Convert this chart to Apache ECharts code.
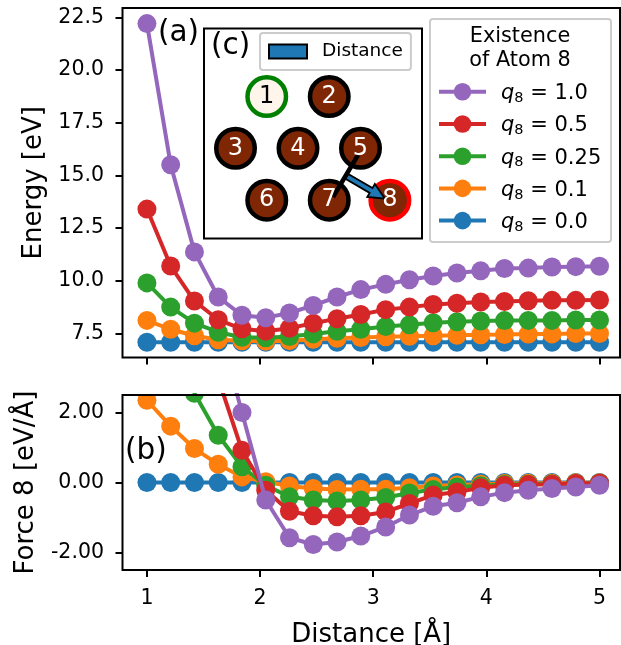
<!DOCTYPE html>
<html><head><meta charset="utf-8">
<script src="https://cdn.jsdelivr.net/npm/echarts@6/dist/echarts.min.js"></script>
<style>html,body{margin:0;padding:0;background:#fff}#c{width:621px;height:645px}</style>
</head><body><div id="c"></div>
<script>
var FONT = '"DejaVu Sans"';
var distance = [1.00,1.21,1.42,1.63,1.84,2.05,2.26,2.47,2.68,2.89,3.11,3.32,3.53,3.74,3.95,4.16,4.37,4.58,4.79,5.00];
var xTicks = [1,2,3,4,5];
var energyTicks = [7.5,10,12.5,15,17.5,20,22.5];
var forceTicks = [-2,0,2];
var qValues = ['0.0','0.1','0.25','0.5','1.0'];
var qColors = ['#1f77b4','#ff7f0e','#2ca02c','#d62728','#9467bd'];

var energyQ00 = [7.08,7.08,7.08,7.08,7.08,7.08,7.08,7.08,7.08,7.08,7.08,7.08,7.08,7.08,7.08,7.08,7.08,7.08,7.08,7.08];
var energyQ01 = [8.12,7.70,7.39,7.20,7.15,7.13,7.16,7.22,7.27,7.31,7.34,7.37,7.39,7.41,7.44,7.45,7.47,7.48,7.50,7.50];
var energyQ025 = [9.90,8.75,7.99,7.56,7.32,7.30,7.36,7.48,7.60,7.70,7.83,7.91,8.01,8.06,8.09,8.11,8.12,8.12,8.14,8.14];
var energyQ05 = [13.40,10.70,9.04,8.15,7.72,7.61,7.75,7.99,8.20,8.40,8.63,8.75,8.87,8.93,8.99,9.02,9.05,9.07,9.07,9.09];
var energyQ10 = [22.20,15.50,11.37,9.23,8.36,8.25,8.47,8.83,9.23,9.58,9.83,10.05,10.23,10.37,10.47,10.58,10.60,10.65,10.67,10.69];

var forceQ00 = [0,0,0,0,0,0,0,0,0,0,0,0,0,0,0,0,0,0,0,0];
var forceQ01 = [2.35,1.61,0.97,0.52,0.16,0.02,-0.10,-0.17,-0.20,-0.19,-0.19,-0.15,-0.10,-0.07,-0.05,-0.03,-0.02,-0.02,-0.01,-0.01];
var forceQ025 = [7.50,5.00,2.55,1.35,0.45,-0.08,-0.41,-0.50,-0.53,-0.50,-0.43,-0.30,-0.20,-0.13,-0.09,-0.06,-0.05,-0.04,-0.03,-0.02];
var forceQ05 = [17.0,12.0,6.00,2.97,0.92,-0.22,-0.82,-0.95,-0.98,-0.95,-0.84,-0.60,-0.36,-0.27,-0.15,-0.08,-0.06,-0.05,-0.03,-0.02];
var forceQ10 = [30.0,22.0,12.0,4.50,2.00,-0.50,-1.58,-1.77,-1.70,-1.53,-1.27,-0.93,-0.68,-0.58,-0.41,-0.29,-0.22,-0.17,-0.13,-0.08];

var energySets = [energyQ00,energyQ01,energyQ025,energyQ05,energyQ10];
var forceSets = [forceQ00,forceQ01,forceQ025,forceQ05,forceQ10];

var atomIds = ['1','2','3','4','5','6','7','8'];
var atomX = [0.5,1.5,0,1,2,0.5,1.5,2.47];
var atomY = [2,2,1,1,1,0,0,0];
var atomFill = ['#fff5eb','#7f2704','#7f2704','#7f2704','#7f2704','#7f2704','#7f2704','#7f2704'];
var atomEdge = ['#008000','#000','#000','#000','#000','#000','#000','#ff0000'];
var atomText = ['#000','#fff','#fff','#fff','#fff','#fff','#fff','#fff'];
var bondLine = [[1.96,0.87],[1.56,0.06]];
var distanceArrow = [[1.78,0.46,2.39,0.03]];

function nameOf(q){ return 'q8 = ' + q; }
function zip(a,b){ return a.map(function(v,i){ return [v,b[i]]; }); }

var series = [];
qValues.forEach(function(q,i){
  series.push({type:'line',name:nameOf(q),xAxisIndex:0,yAxisIndex:0,data:zip(distance,energySets[i]),
    symbol:'circle',symbolSize:19,showAllSymbol:true,z:3+i*2,
    lineStyle:{color:qColors[i],width:4},itemStyle:{color:qColors[i]},emphasis:{disabled:true},animation:false});
});
qValues.forEach(function(q,i){
  series.push({type:'line',name:nameOf(q),xAxisIndex:1,yAxisIndex:1,data:zip(distance,forceSets[i]),
    showSymbol:false,symbol:'none',z:3+i*2,clip:true,
    lineStyle:{color:qColors[i],width:4},itemStyle:{color:qColors[i]},emphasis:{disabled:true},animation:false});
  series.push({type:'custom',name:nameOf(q),xAxisIndex:1,yAxisIndex:1,data:zip(distance,forceSets[i]),z:4+i*2,
    encode:{x:0,y:1},animation:false,silent:true,
    renderItem:function(params,api){
      var p=api.coord([api.value(0),api.value(1)]);
      var r=params.coordSys;
      return {type:'circle',shape:{cx:p[0],cy:p[1],r:9.5},style:{fill:qColors[i]},
        clipPath:{type:'rect',shape:{x:r.x,y:r.y,width:r.width,height:r.height}}};
    }});
});
series.push({type:'scatter',name:'atoms',xAxisIndex:2,yAxisIndex:2,z:41,silent:true,animation:false,symbolSize:38.5,
  data:atomIds.map(function(id,i){return {value:[atomX[i],atomY[i]],itemStyle:{color:atomFill[i],borderColor:atomEdge[i],borderWidth:4.5,opacity:1}};})});
series.push({type:'custom',name:'Distance',xAxisIndex:2,yAxisIndex:2,z:42,silent:true,animation:false,
  encode:{x:[0,2],y:[1,3]},data:distanceArrow,itemStyle:{color:'#1f77b4',borderColor:'#000',borderWidth:2},
  renderItem:function(params,api){
    var a=api.coord([api.value(0),api.value(1)]),b=api.coord([api.value(2),api.value(3)]);
    var dx=b[0]-a[0],dy=b[1]-a[1],L=Math.sqrt(dx*dx+dy*dy),ux=dx/L,uy=dy/L,nx=-uy,ny=ux;
    var w=2.8,hw=7.5,hl=16,hx=b[0]-ux*hl,hy=b[1]-uy*hl;
    return {type:'polygon',shape:{points:[
      [a[0]+nx*w,a[1]+ny*w],[hx+nx*w,hy+ny*w],[hx+nx*hw,hy+ny*hw],b,
      [hx-nx*hw,hy-ny*hw],[hx-nx*w,hy-ny*w],[a[0]-nx*w,a[1]-ny*w]]},
      style:{fill:'#1f77b4',stroke:'#000',lineWidth:1.8}};
  }});
series.push({type:'line',name:'bond',xAxisIndex:2,yAxisIndex:2,z:43,silent:true,animation:false,symbol:'none',
  data:bondLine,lineStyle:{color:'#000',width:4.5}});
series.push({type:'scatter',name:'atomIds',xAxisIndex:2,yAxisIndex:2,z:44,silent:true,animation:false,symbolSize:1,
  itemStyle:{color:'rgba(0,0,0,0)',opacity:1},
  data:atomIds.map(function(id,i){return {value:[atomX[i],atomY[i]],itemStyle:{opacity:1},
    label:{show:true,position:'inside',formatter:id,color:atomText[i],opacity:1,fontSize:24,fontFamily:FONT,textBorderWidth:0}};})});

function yAxis(idx,mn,mx,ticks,dec,name,gap){
  return {type:'value',gridIndex:idx,min:mn,max:mx,z:31,name:name,nameLocation:'center',nameRotate:90,nameGap:gap,
    nameTextStyle:{fontFamily:FONT,fontSize:26,color:'#000'},
    splitLine:{show:false},axisLine:{show:false,onZero:false},
    axisTick:{show:true,length:7,inside:false,lineStyle:{color:'#000',width:2},customValues:ticks},
    axisLabel:{show:true,margin:18.5,fontFamily:FONT,fontSize:20.5,color:'#000',customValues:ticks,
      formatter:function(v){return v.toFixed(dec);}}};
}
function xAxis(idx,labels){
  return {type:'value',gridIndex:idx,min:0.784,max:5.181,z:31,
    name:labels?'Distance [\u00c5]':'',nameLocation:'center',nameGap:52,
    nameTextStyle:{fontFamily:FONT,fontSize:26,color:'#000'},
    splitLine:{show:false},axisLine:{show:false,onZero:false},
    axisTick:{show:true,length:7,lineStyle:{color:'#000',width:2},customValues:xTicks},
    axisLabel:{show:labels,margin:18,fontFamily:FONT,fontSize:20.5,color:'#000',customValues:xTicks,
      formatter:function(v){return String(v);}}};
}
var legendRich={
  q:{fontFamily:FONT,fontSize:21,fontStyle:'italic',color:'#000',padding:[4,0,0,10]},
  s:{fontFamily:FONT,fontSize:14.5,color:'#000',padding:[13,0,0,0]},
  t:{fontFamily:FONT,fontSize:21,color:'#000',padding:[4,0,0,0]}
};
var option={
  animation:false,backgroundColor:'#fff',
  grid:[
    {left:122.5,top:8,width:497.5,height:349.5,show:true,borderColor:'#000',borderWidth:2,backgroundColor:'transparent',z:30,outerBoundsMode:'none'},
    {left:122.5,top:395,width:497.5,height:175,show:true,borderColor:'#000',borderWidth:2,backgroundColor:'transparent',z:30,outerBoundsMode:'none'},
    {left:204,top:28.5,width:218,height:210,show:true,borderColor:'#000',borderWidth:2,backgroundColor:'#fff',z:40,outerBoundsMode:'none'}
  ],
  xAxis:[xAxis(0,false),xAxis(1,true),
    {type:'value',gridIndex:2,min:-0.504,max:2.984,show:false}],
  yAxis:[yAxis(0,6.36,22.94,energyTicks,1,'Energy [eV]',74),yAxis(1,-2.5,2.5,forceTicks,2,'Force 8 [eV/\u00c5]',83),
    {type:'value',gridIndex:2,min:-0.74,max:3.31,show:false}],
  legend:[
    {orient:'vertical',left:437,top:83,padding:0,itemGap:9.4,itemWidth:47,itemHeight:22,z:25,selectedMode:false,
      lineStyle:{width:4},
      data:qValues.slice().reverse().map(nameOf),
      formatter:function(n){return '{q|q}{s|8}{t| = '+n.split(' = ')[1]+'}';},
      textStyle:{fontFamily:FONT,fontSize:21,color:'#000',rich:legendRich}},
    {left:260,top:33,padding:[9,8,9,8],itemWidth:38,itemHeight:14,z:45,selectedMode:false,data:['Distance'],icon:'rect',
      backgroundColor:'#fff',borderColor:'#ccc',borderWidth:2,borderRadius:3,
      itemStyle:{color:'#1f77b4',borderColor:'#000',borderWidth:2},
      textStyle:{fontFamily:FONT,fontSize:18.5,color:'#000',padding:[0,0,0,10]}}
  ],
  graphic:[
    {type:'rect',z:20,shape:{x:430,y:19,width:181,height:223,r:3},style:{fill:'#fff',stroke:'#ccc',lineWidth:2},silent:true},
    {type:'text',z:26,style:{x:520,y:37,text:'Existence',font:'20.8px '+FONT,fill:'#000',textAlign:'center',textVerticalAlign:'middle'},silent:true},
    {type:'text',z:26,style:{x:520,y:61,text:'of Atom 8',font:'20.8px '+FONT,fill:'#000',textAlign:'center',textVerticalAlign:'middle'},silent:true},
    {type:'text',z:50,style:{x:158,y:33,text:'(a)',font:'29.5px '+FONT,fill:'#000',textAlign:'left',textVerticalAlign:'middle'},silent:true},
    {type:'text',z:50,style:{x:125,y:451,text:'(b)',font:'29.5px '+FONT,fill:'#000',textAlign:'left',textVerticalAlign:'middle'},silent:true},
    {type:'text',z:50,style:{x:211,y:46,text:'(c)',font:'29.5px '+FONT,fill:'#000',textAlign:'left',textVerticalAlign:'middle'},silent:true}
  ],
  series:series
};
echarts.init(document.getElementById('c'),null,{renderer:'canvas'}).setOption(option);
</script></body></html>
